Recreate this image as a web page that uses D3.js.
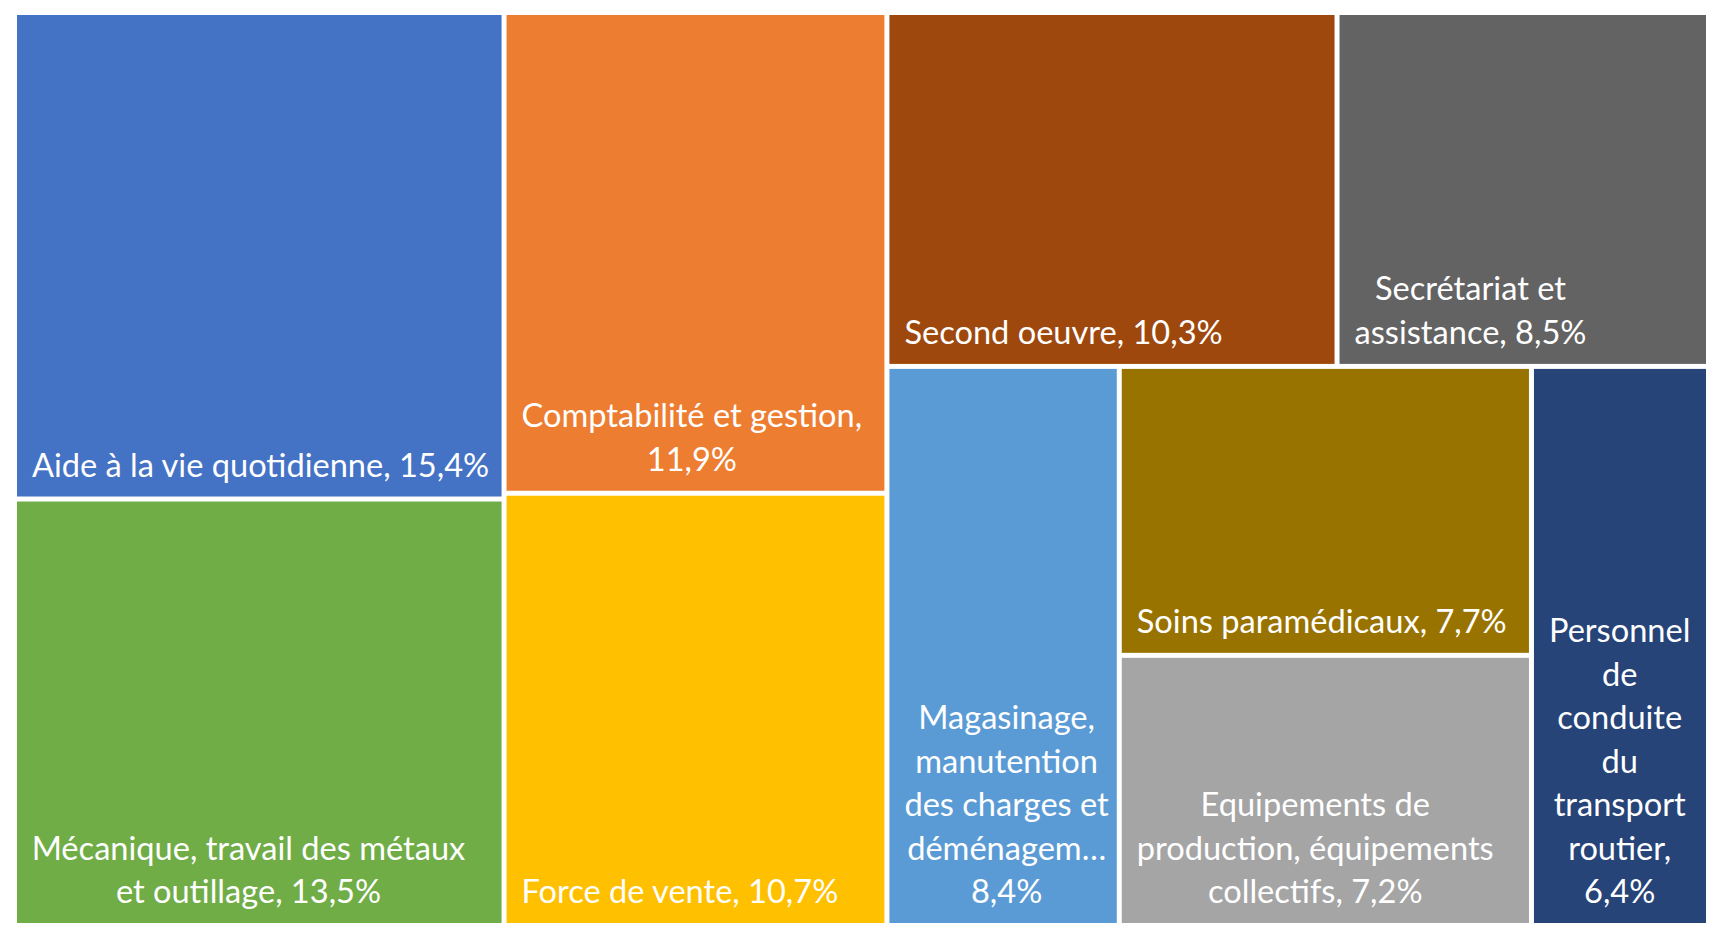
<!DOCTYPE html>
<html lang="fr">
<head>
<meta charset="utf-8">
<script src="https://cdn.jsdelivr.net/npm/d3@7/dist/d3.min.js"></script>
<style>
  html, body { margin: 0; padding: 0; background: #ffffff; }
  svg { display: block; }
</style>
</head>
<body>
<svg id="chart" width="1710" height="929"></svg>
<script>
// ---- data ----
const categories = [
  "Aide à la vie quotidienne",
  "Mécanique, travail des métaux et outillage",
  "Comptabilité et gestion",
  "Force de vente",
  "Second oeuvre",
  "Secrétariat et assistance",
  "Magasinage, manutention des charges et déménagement",
  "Soins paramédicaux",
  "Equipements de production, équipements collectifs",
  "Personnel de conduite du transport routier"
];
const values = [15.4, 13.5, 11.9, 10.7, 10.3, 8.5, 8.4, 7.7, 7.2, 6.4];
const labelLines = [
  "Aide à la vie quotidienne, 15,4%",
  "Mécanique, travail des métaux\net outillage, 13,5%",
  "Comptabilité et gestion,\n11,9%",
  "Force de vente, 10,7%",
  "Second oeuvre, 10,3%",
  "Secrétariat et\nassistance, 8,5%",
  "Magasinage,\nmanutention\ndes charges et\ndéménagem…\n8,4%",
  "Soins paramédicaux, 7,7%",
  "Equipements de\nproduction, équipements\ncollectifs, 7,2%",
  "Personnel\nde\nconduite\ndu\ntransport\nroutier,\n6,4%"
];
const colors = ["#4472C4", "#70AD47", "#ED7D31", "#FFC000", "#9E480E",
                "#636363", "#5B9BD5", "#997300", "#A5A5A5", "#264478"];

// ---- layout ----
const margin = {left: 17, top: 15, right: 4, bottom: 6};
const W = 1710 - margin.left - margin.right;
const H = 929 - margin.top - margin.bottom;
const GAP = 5;
const FONT = 32.6, LINE_H = 43.5, PAD_X = 15, PAD_BOTTOM = 20;

// squarified tiling, adding a cell to a strip only when it clearly improves the aspect
function excelSquarify(parent, x0, y0, x1, y1) {
  const nodes = parent.children;
  let value = parent.value, i0 = 0;
  while (i0 < nodes.length) {
    const dx = x1 - x0, dy = y1 - y0;
    const dice = dx < dy;
    const worst = (row, sum) => {
      const t = (dice ? dy : dx) * sum / value;
      const len = dice ? dx : dy;
      let w = 0;
      for (const n of row) { const l = len * n.value / sum; w = Math.max(w, t / l, l / t); }
      return w;
    };
    let i1 = i0 + 1, sum = nodes[i0].value, best = worst(nodes.slice(i0, i1), sum);
    while (i1 < nodes.length) {
      const s2 = sum + nodes[i1].value;
      const r2 = worst(nodes.slice(i0, i1 + 1), s2);
      if (r2 * 1.5 > best) break;
      sum = s2; best = r2; i1++;
    }
    const row = {value: sum, children: nodes.slice(i0, i1)};
    if (dice) { const yk = y0 + dy * sum / value; d3.treemapDice(row, x0, y0, x1, yk); y0 = yk; }
    else { const xk = x0 + dx * sum / value; d3.treemapSlice(row, x0, y0, xk, y1); x0 = xk; }
    value -= sum; i0 = i1;
  }
}

const rows = categories.map((c, i) => ({name: c, value: values[i], label: labelLines[i], color: colors[i]}));
const root = d3.hierarchy({children: rows})
  .sum(d => d.value || 0)
  .sort((a, b) => b.value - a.value);

d3.treemap()
  .size([W, H])
  .paddingInner(GAP)
  .tile(excelSquarify)(root);

const svg = d3.select("#chart");
const g = svg.append("g").attr("transform", `translate(${margin.left},${margin.top})`);

const cell = g.selectAll("g.cell")
  .data(root.leaves())
  .join("g")
  .attr("class", "cell");

cell.append("rect")
  .attr("x", d => d.x0)
  .attr("y", d => d.y0)
  .attr("width", d => d.x1 - d.x0)
  .attr("height", d => d.y1 - d.y0)
  .attr("fill", d => d.data.color);

cell.each(function(d) {
  const lines = d.data.label.split("\n");
  const t = d3.select(this).append("text")
    .attr("font-family", "Lato, 'Open Sans', sans-serif")
    .attr("font-size", FONT)
    .attr("fill", "#ffffff")
    .attr("text-anchor", "middle");
  const spans = lines.map((ln, i) => t.append("tspan").text(ln));
  const widths = spans.map(s => s.node().getComputedTextLength());
  const bw = d3.max(widths);
  const cx = d.x0 + PAD_X + bw / 2;
  const baseLast = d.y1 - PAD_BOTTOM;
  spans.forEach((s, i) => {
    s.attr("x", cx).attr("y", baseLast - (lines.length - 1 - i) * LINE_H);
  });
});
</script>
</body>
</html>
